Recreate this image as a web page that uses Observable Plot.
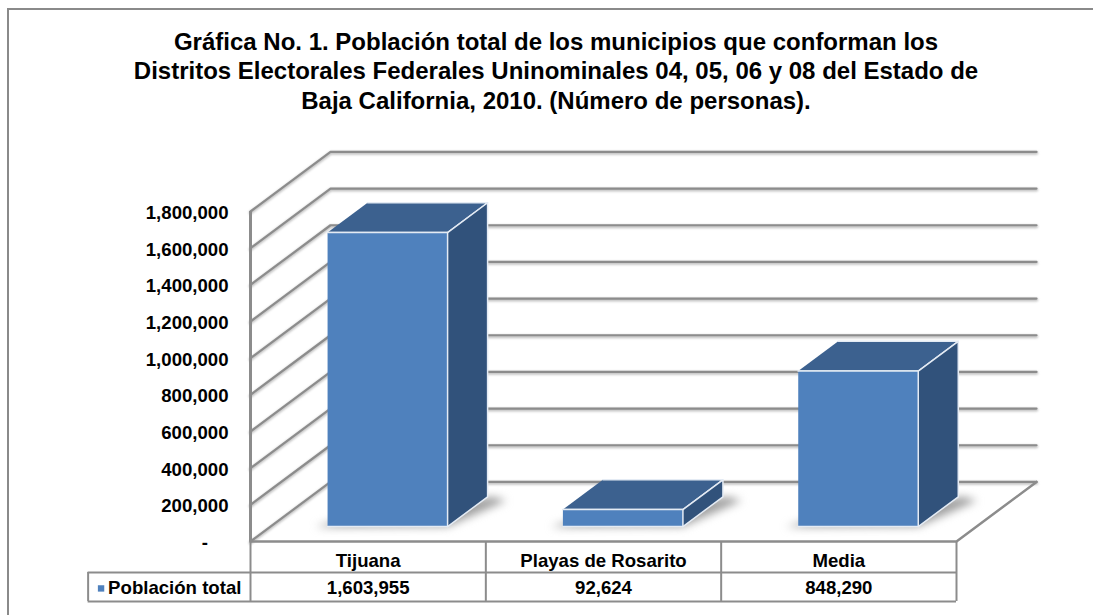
<!DOCTYPE html>
<html>
<head>
<meta charset="utf-8">
<script src="https://cdn.jsdelivr.net/npm/d3@7"></script>
<script src="https://cdn.jsdelivr.net/npm/@observablehq/plot@0.6"></script>
<style>
html,body{margin:0;padding:0;background:#fff;overflow:hidden}
#wrap{position:relative;width:1093px;height:615px}
#frame{position:absolute;left:7px;top:8px;right:-4px;bottom:-4px;border:2px solid #8a8a8a}
#title{position:absolute;left:0;top:27px;width:1112px;text-align:center;font:bold 24px/29.3px "Liberation Sans",Arial,sans-serif;color:#000}
svg{position:absolute;left:0;top:0;font-family:"Liberation Sans",Arial,sans-serif}
</style>
</head>
<body>
<div id="wrap"><div id="frame"></div>
<div id="title">Gráfica No. 1. Población total de los municipios que conforman los<br>Distritos Electorales Federales Uninominales 04, 05, 06 y 08 del Estado de<br>Baja California, 2010. (Número de personas).</div>
</div>
<script>
const categories = ["Tijuana", "Playas de Rosarito", "Media"];
const poblacion = [1603955, 92624, 848290];
const yTicks = [0, 200000, 400000, 600000, 800000, 1000000, 1200000, 1400000, 1600000, 1800000];
const serieNombre = "Población total";

// Oblique projection: one unit of depth, in data units of each scale
const depthX = 0.34, depthY = 325000, yMax = 1800000;
const barL = 0.2425, barR = 0.7525, depthF = 0.25, depthB = 0.75;
const rowCat = -108000, rowVal = -256000, rowLine = -169000, tableBottom = -327000, legendLeft = -0.69;
const P = (c, v, d) => ({x: c + d * depthX, y: v + d * depthY});
const poly = (id, pts) => pts.map(p => ({id, ...p}));

const fmt = d3.format(",");
const wall = yTicks.flatMap(t => [P(0, t, 0), P(0, t, 1), P(3, t, 1)].map(p => ({id: t, ...p})));
const floorEdge = [P(0, 0, 0), P(3, 0, 0), P(3, 0, 1)];

const faces = poblacion.flatMap((v, i) => {
  const a = i + barL, b = i + barR;
  return [
    poly(`top${i}`, [P(a, v, depthF), P(b, v, depthF), P(b, v, depthB), P(a, v, depthB)]).map(o => ({...o, face: "top"})),
    poly(`side${i}`, [P(b, 0, depthF), P(b, 0, depthB), P(b, v, depthB), P(b, v, depthF)]).map(o => ({...o, face: "side"})),
    poly(`front${i}`, [P(a, 0, depthF), P(b, 0, depthF), P(b, v, depthF), P(a, v, depthF)]).map(o => ({...o, face: "front"}))
  ].flat();
});
const shadows = poblacion.flatMap((v, i) => {
  const a = i + barL, b = i + barR;
  return poly(`s${i}`, [P(a - 0.05, 0, depthF - 0.005), P(b, 0, depthF), P(b + 0.1, 0, depthB - 0.06), P(b + 0.02, 0, depthB), P(a, 0, depthF + 0.1)]);
});
const faceFill = {top: "#3c618f", side: "#31527b", front: "#4f81bd"};

const plot = Plot.plot({
  width: 1093,
  height: 615,
  marginLeft: 250,
  x: {domain: [0, 3], range: [250, 956], axis: null},
  y: {domain: [0, yMax], range: [541, 211], axis: null},
  marks: [
    // light halo below each gridline
    Plot.line(wall, {x: "x", y: "y", z: "id", stroke: "#c4c4c4", strokeWidth: 3.5, dy: 1.2, imageFilter: "blur(0.8px)"}),
    Plot.line(wall, {x: "x", y: "y", z: "id", stroke: "#8c8c8c", strokeWidth: 2.2}),
    // floor
    Plot.line(floorEdge, {x: "x", y: "y", stroke: "#8c8c8c", strokeWidth: 2.5}),
    // left wall edge
    Plot.ruleX([0], {y1: 0, y2: yMax, stroke: "#8c8c8c", strokeWidth: 3}),
    // bar shadows
    Plot.line(shadows, {x: "x", y: "y", z: "id", fill: "#a0a0a0", stroke: null, imageFilter: "blur(4px)"}),
    // bars
    Plot.line(faces, {x: "x", y: "y", z: "id", fill: d => faceFill[d.face], stroke: "#e4ebf4", strokeWidth: 1.5, strokeLinejoin: "round"}),
    // data table
    Plot.ruleX([0, 1, 2, 3], {y1: 0, y2: tableBottom, stroke: "#8c8c8c", strokeWidth: 2}),
    Plot.ruleX([legendLeft], {y1: rowLine, y2: tableBottom, stroke: "#8c8c8c", strokeWidth: 2}),
    Plot.ruleY([rowLine, tableBottom], {x1: legendLeft, x2: 3, stroke: "#8c8c8c", strokeWidth: 2}),
    Plot.text(categories, {x: (d, i) => i + 0.5, y: rowCat, text: d => d, fontSize: 18.6, fontWeight: "bold", fill: "#000"}),
    Plot.text(poblacion, {x: (d, i) => i + 0.5, y: rowVal, text: d => fmt(d), fontSize: 18.6, fontWeight: "bold", fill: "#000"}),
    Plot.text([serieNombre], {x: -0.605, y: rowVal, text: d => d, textAnchor: "start", fontSize: 18.6, fontWeight: "bold", fill: "#000"}),
    Plot.dot([serieNombre], {x: -0.635, y: rowVal, symbol: "square", r: 3.6, fill: "#4f81bd"}),
    // value axis
    Plot.axisY(yTicks, {
      anchor: "left", tickSize: 0, tickPadding: 22, dy: 1.5, label: null,
      tickFormat: d => d === 0 ? "-\u00a0\u00a0\u00a0\u00a0" : fmt(d),
      fontSize: 18.6, fontWeight: "bold", fill: "#000"
    })
  ]
});
document.getElementById("wrap").appendChild(plot);
</script>
</body>
</html>
